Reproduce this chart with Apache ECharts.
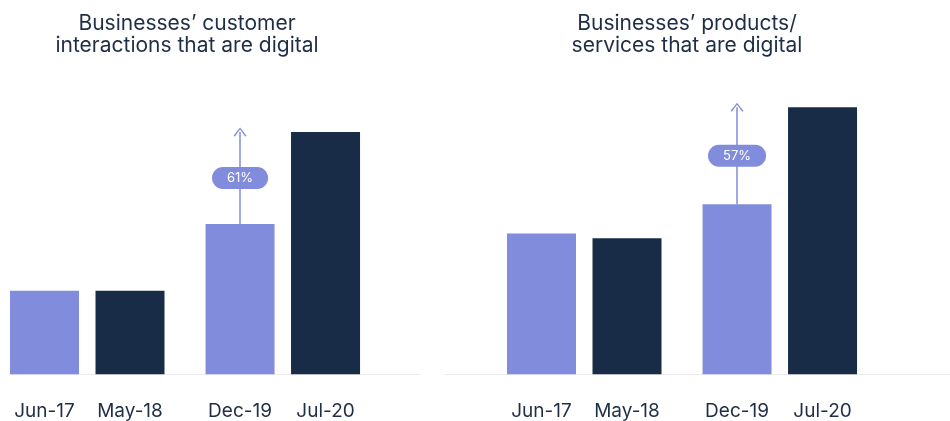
<!DOCTYPE html>
<html>
<head>
<meta charset="utf-8">
<script src="https://cdn.jsdelivr.net/npm/echarts@6/dist/echarts.min.js"></script>
<style>
html,body{margin:0;padding:0;background:#fff;}
#chart{width:950px;height:421px;}
</style>
</head>
<body>
<div id="chart"></div>
<script>
// data
var categories = ['Jun-17', 'May-18', 'Dec-19', 'Jul-20'];
var customerValues = [20, 20, 36, 58];
var productValues = [29, 28, 35, 55];
var growthLabels = ['61%', '57%'];
var panelTitles = ['Businesses\u2019 customer\ninteractions that are digital', 'Businesses\u2019 products/\nservices that are digital'];

var LIGHT = '#818cdd';
var DARK = '#182c47';
var TEXT = '#1f2e47';
var FONT = 'Inter, "Noto Sans", sans-serif';

// bars come in two pairs, with a wider gap between the pairs
function pos(i) {
	return i + (i >= 2 ? 0.287 : 0);
}

function barSeries(values, gridIndex, growth) {
	var data = [];
	for (var i = 0; i < values.length; i++) {
		data.push({
			value: [pos(i), values[i]],
			itemStyle: { color: i % 2 == 0 ? LIGHT : DARK }
		});
	}
	var from = values[2], to = values[3];
	return {
		type: 'bar',
		xAxisIndex: gridIndex,
		yAxisIndex: gridIndex,
		barWidth: 69,
		data: data,
		silent: true,
		label: {
			show: true,
			position: 'bottom',
			distance: 27,
			color: TEXT,
			fontFamily: FONT,
			fontSize: 19,
			formatter: function (p) { return categories[p.dataIndex]; }
		},
		markLine: {
			silent: true,
			symbol: ['none', 'path://M0,10 L5,0 L10,10 L9,10.9 L5,2.6 L1,10.9 Z'],
			symbolSize: [13, 9],
			symbolOffset: [-4, 0],
			lineStyle: { color: LIGHT, width: 1.5, type: 'solid' },
			label: { show: false },
			data: [[{ coord: [pos(2), from] }, { coord: [pos(2), to] }]]
		},
		markPoint: {
			silent: true,
			symbol: 'circle',
			symbolSize: 0,
			label: {
				show: true,
				position: 'inside',
				formatter: growth,
				color: '#fff',
				fontFamily: FONT,
				fontSize: 13,
				lineHeight: 14,
				backgroundColor: LIGHT,
				borderRadius: 11,
				padding: [4, 15]
			},
			data: [{ coord: [pos(2), (from + to) / 2] }]
		}
	};
}

function xAxis(gridIndex, min, max) {
	return {
		type: 'value',
		gridIndex: gridIndex,
		min: min,
		max: max,
		axisLine: { show: true, lineStyle: { color: '#ebebef', width: 1 } },
		axisTick: { show: false },
		axisLabel: { show: false },
		splitLine: { show: false }
	};
}

function yAxis(gridIndex) {
	return { type: 'value', gridIndex: gridIndex, min: 0, max: 60, show: false };
}

var chart = echarts.init(document.getElementById('chart'));
var unit = 85.5;
var titleStyle = { color: TEXT, fontFamily: FONT, fontWeight: 'normal', fontSize: 21, lineHeight: 22 };
var option = {
	backgroundColor: '#ffffff',
	animation: false,
	title: [
		{ text: panelTitles[0], left: 182, top: 8, textAlign: 'center', textStyle: titleStyle },
		{ text: panelTitles[1], left: 682, top: 8, textAlign: 'center', textStyle: titleStyle }
	],
	grid: [
		{ left: 10, right: 530, top: 123.6, bottom: 46.7 },
		{ left: 445, right: 0, top: 82.9, bottom: 46.7 }
	],
	xAxis: [
		xAxis(0, -34.5 / unit, -34.5 / unit + 410 / unit),
		xAxis(1, -96.5 / unit, -96.5 / unit + 505 / unit)
	],
	yAxis: [yAxis(0), yAxis(1)],
	series: [
		barSeries(customerValues, 0, growthLabels[0]),
		barSeries(productValues, 1, growthLabels[1])
	]
};
chart.setOption(option);
</script>
</body>
</html>
